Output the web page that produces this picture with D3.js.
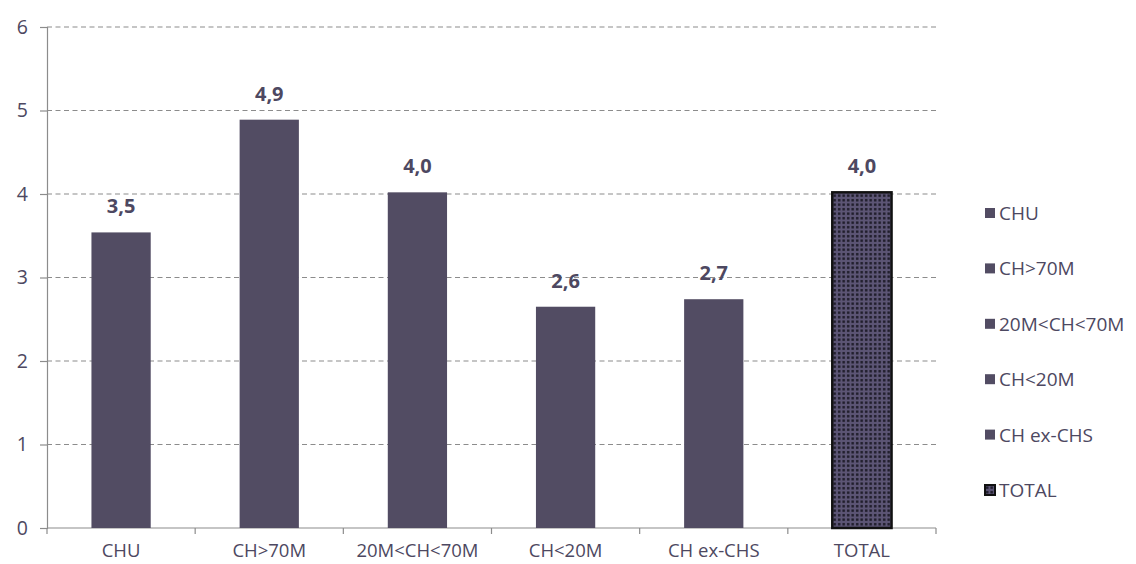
<!DOCTYPE html>
<html>
<head>
<meta charset="utf-8">
<script src="https://cdn.jsdelivr.net/npm/d3@7"></script>
<style>
    body { margin: 0; background: #fff; }
    svg text { font-family: "Open Sans", "Noto Sans", sans-serif; }
</style>
</head>
<body>
<svg id="chart" width="1136" height="564"></svg>
<script>
const categories = ['CHU', 'CH>70M', '20M<CH<70M', 'CH<20M', 'CH ex-CHS', 'TOTAL'];
const values = [3.54, 4.89, 4.02, 2.65, 2.74, 4.02];
const valueLabels = ['3,5', '4,9', '4,0', '2,6', '2,7', '4,0'];
const yTicks = [0, 1, 2, 3, 4, 5, 6];

const barColor = '#524c63';
const textColor = '#4d4861';
const axisColor = '#8c8c8c';

const svg = d3.select('#chart');
const left = 47, right = 936;

const x = d3.scaleBand().domain(categories).range([left, right]).paddingInner(0.6).paddingOuter(0.3);
const y = d3.scaleLinear().domain([0, 6]).range([528, 27]);
const step = (right - left) / categories.length;

// dotted fill for the TOTAL bar
const defs = svg.append('defs');
const pat = defs.append('pattern').attr('id', 'dots').attr('patternUnits', 'userSpaceOnUse')
    .attr('width', 4.5).attr('height', 4.5);
pat.append('rect').attr('width', 4.5).attr('height', 4.5).attr('fill', '#5c5575');
pat.append('rect').attr('x', 1).attr('y', 1).attr('width', 2.4).attr('height', 2.4).attr('fill', '#1c1a26');

// gridlines
svg.append('g').selectAll('line').data(yTicks.filter(d => d > 0)).join('line')
    .attr('x1', left).attr('x2', right)
    .attr('y1', d => y(d)).attr('y2', d => y(d))
    .attr('stroke', axisColor).attr('stroke-width', 1.2).attr('stroke-dasharray', '5,3.5');

// y axis
const yAxis = svg.append('g').attr('transform', `translate(${left},0)`)
    .call(d3.axisLeft(y).tickValues(yTicks).tickSize(7).tickPadding(12).tickFormat(d3.format('d')));
yAxis.select('.domain').attr('stroke', axisColor).attr('stroke-width', 1.2);
yAxis.selectAll('.tick line').attr('stroke', axisColor).attr('stroke-width', 1.2);
yAxis.selectAll('.tick text').attr('fill', textColor).attr('font-size', 19.5);

// x axis with ticks on category boundaries
svg.append('line').attr('x1', left).attr('x2', right).attr('y1', y(0)).attr('y2', y(0))
    .attr('stroke', axisColor).attr('stroke-width', 1.2);
svg.append('g').selectAll('line').data(d3.range(categories.length + 1)).join('line')
    .attr('x1', i => left + i * step).attr('x2', i => left + i * step)
    .attr('y1', y(0)).attr('y2', y(0) + 6)
    .attr('stroke', axisColor).attr('stroke-width', 1.2);
svg.append('g').selectAll('text').data(categories).join('text')
    .attr('x', d => x(d) + x.bandwidth() / 2).attr('y', 557)
    .attr('text-anchor', 'middle').attr('font-size', 18.5).attr('fill', textColor)
    .text(d => d);

// bars
svg.append('g').selectAll('rect').data(categories).join('rect')
    .attr('x', d => x(d)).attr('width', x.bandwidth())
    .attr('y', (d, i) => y(values[i])).attr('height', (d, i) => y(0) - y(values[i]))
    .attr('fill', d => d === 'TOTAL' ? 'url(#dots)' : barColor)
    .attr('stroke', d => d === 'TOTAL' ? '#111' : 'none')
    .attr('stroke-width', 2.5);

// value labels
svg.append('g').selectAll('text').data(categories).join('text')
    .attr('x', d => x(d) + x.bandwidth() / 2)
    .attr('y', (d, i) => y(values[i]) - 19)
    .attr('text-anchor', 'middle').attr('font-size', 20).attr('font-weight', 'bold')
    .attr('fill', textColor)
    .text((d, i) => valueLabels[i]);

// legend
const legend = svg.append('g').selectAll('g').data(categories).join('g')
    .attr('transform', (d, i) => `translate(985,${213 + i * 55.4})`);
legend.append('rect').attr('x', 0).attr('y', -5).attr('width', 10).attr('height', 10)
    .attr('fill', d => d === 'TOTAL' ? 'url(#dots)' : barColor)
    .attr('stroke', d => d === 'TOTAL' ? '#111' : 'none').attr('stroke-width', 2);
legend.append('text').attr('x', 14).attr('y', 7)
    .attr('font-size', 19).attr('fill', textColor).text(d => d);
</script>
</body>
</html>
